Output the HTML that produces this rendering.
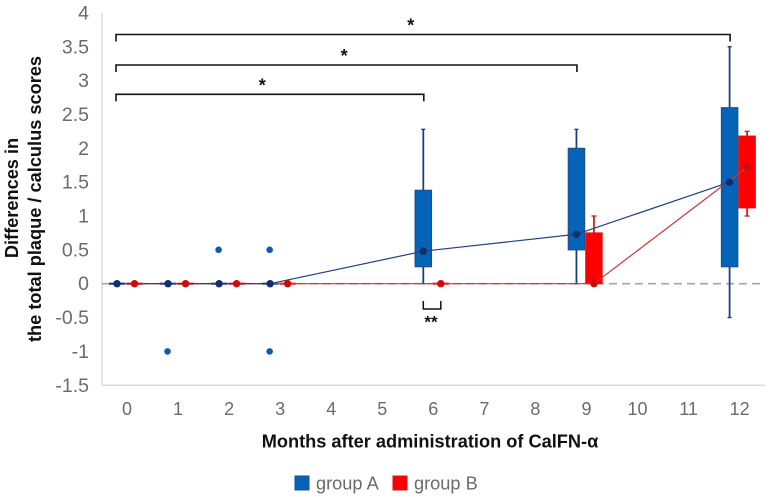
<!DOCTYPE html>
<html>
<head>
<meta charset="utf-8">
<style>
html,body{margin:0;padding:0;background:#fff;}
svg{display:block;font-family:"Liberation Sans",sans-serif;filter:blur(0.3px);}
</style>
</head>
<body>
<svg id="chart" width="771" height="497" viewBox="0 0 771 497" xmlns="http://www.w3.org/2000/svg">
<rect x="0" y="0" width="771" height="497" fill="#fff"/>
<g id="axes"></g>
<g id="marks"></g>
<g id="sig"></g>
<text transform="translate(18,198) rotate(-90)" text-anchor="middle" font-size="18.2" font-weight="bold" fill="#111">Differences in</text>
<text transform="translate(41,199) rotate(-90)" text-anchor="middle" font-size="18.2" font-weight="bold" fill="#111">the total plaque / calculus scores</text>
<text x="430" y="447.5" text-anchor="middle" font-size="18.2" font-weight="bold" fill="#111">Months after administration of CalFN-α</text>
<rect x="295" y="476" width="14" height="14" fill="#0563b8" stroke="#1f4e8c" stroke-width="1"/>
<text x="316" y="489.5" font-size="18.2" fill="#6b6b6b">group A</text>
<rect x="393" y="476" width="14" height="14" fill="#ff0000" stroke="#d01818" stroke-width="1"/>
<text x="414" y="489.5" font-size="18.2" fill="#6b6b6b">group B</text>
</svg>
<script>
var categories = ["0","1","2","3","4","5","6","7","8","9","10","11","12"];
var yTicks = [4,3.5,3,2.5,2,1.5,1,0.5,0,-0.5,-1,-1.5];
var meanCategories = [0,1,2,3,6,9,12];
var meanA = [0,0,0,0,0.48,0.73,1.5];
var meanB = [0,0,0,0,0,0,1.72];
var boxCategoriesA = [6,9,12];
var q1A = [0.25,0.5,0.25];
var q3A = [1.38,2.0,2.6];
var whiskerLowA = [0,0,-0.5];
var whiskerHighA = [2.28,2.28,3.5];
var boxCategoriesB = [9,12];
var q1B = [0,1.12];
var q3B = [0.75,2.18];
var whiskerLowB = [0,1.0];
var whiskerHighB = [1.0,2.25];
var outlierCategories = [1,2,3,3];
var outlierValues = [-1,0.5,0.5,-1];
var flatCategories = [0,1,2,3];
var bracketEnds = [12,9,6];

var NS = "http://www.w3.org/2000/svg";
function xCat(c){ return 127 + c * 51.05; }
function xA(c){ return xCat(c) - 10; }
function xB(c){ return xCat(c) + 7.5; }
function yVal(v){ return 283.7 - v * 67.7; }
function mk(parent, tag, attrs){
  var el = document.createElementNS(NS, tag);
  for (var k in attrs) el.setAttribute(k, attrs[k]);
  parent.appendChild(el);
  return el;
}
var axes = document.getElementById("axes");
var marks = document.getElementById("marks");
var sig = document.getElementById("sig");

var yAxis = mk(axes, "line", {x1:102, x2:102, y1:yVal(4), y2:yVal(-1.5), stroke:"#d4d4d4", "stroke-width":1.2});


var xAxis = mk(axes, "line", {x1:102, x2:765, y1:yVal(-1.5), y2:yVal(-1.5), stroke:"#d4d4d4", "stroke-width":1.2});


var zero = mk(axes, "line", {x1:102, x2:765, y1:yVal(0), y2:yVal(0), stroke:"#a6a6a6", "stroke-width":1.6, "stroke-dasharray":"8 5"});



yTicks.forEach(function(t){
  var el = mk(axes, "text", {x:89, y:yVal(t) + 6.5, "text-anchor":"end", "font-size":19.5, fill:"#6b6b6b"});
  el.textContent = String(t);
  
  
});
categories.forEach(function(c, i){
  var el = mk(axes, "text", {x:xCat(i), y:415, "text-anchor":"middle", "font-size":18, fill:"#6b6b6b"});
  el.textContent = c;
  
  
});

function drawBox(c, xf, q1, q3, lo, hi, fill, stroke, hw, capw, wstroke, name){
  var x = xf(c);
  var w1 = mk(marks, "line", {x1:x, x2:x, y1:yVal(q3), y2:yVal(hi), stroke:wstroke, "stroke-width":1.8});
  
  
  var w2 = mk(marks, "line", {x1:x, x2:x, y1:yVal(q1), y2:yVal(lo), stroke:wstroke, "stroke-width":1.8});
  
  
  [hi, lo].forEach(function(v){
    var cap = mk(marks, "line", {x1:x - capw, x2:x + capw, y1:yVal(v), y2:yVal(v), stroke:wstroke, "stroke-width":1.4});
    
    
  });
  var box = mk(marks, "rect", {x:x - hw, y:yVal(q3), width:hw * 2, height:yVal(q1) - yVal(q3), fill:fill, stroke:stroke, "stroke-width":1.1});
  
  
}
boxCategoriesA.forEach(function(c, i){
  drawBox(c, xA, q1A[i], q3A[i], whiskerLowA[i], whiskerHighA[i], "#0563b8", "#1f4e8c", 8.2, 2, "#1f3f7c", "group-a");
});
boxCategoriesB.forEach(function(c, i){
  drawBox(c, xB, q1B[i], q3B[i], whiskerLowB[i], whiskerHighB[i], "#ff0000", "#e01010", 8.2, 2.5, "#d02020", "group-b");
});

flatCategories.forEach(function(c){
  var a = mk(marks, "line", {x1:xA(c) - 8, x2:xA(c) + 8, y1:yVal(0), y2:yVal(0), stroke:"#1f3f7c", "stroke-width":2.2});
  
  
  var b = mk(marks, "line", {x1:xB(c) - 8, x2:xB(c) + 8, y1:yVal(0), y2:yVal(0), stroke:"#e01a1a", "stroke-width":2.2});
  
  
});
var flatB6 = mk(marks, "line", {x1:xB(6) - 8, x2:xB(6) + 8, y1:yVal(0), y2:yVal(0), stroke:"#e01a1a", "stroke-width":2.2});



function pts(xf, vals){
  return meanCategories.map(function(c, i){ return xf(c) + "," + yVal(vals[i]); }).join(" ");
}
var lineB = mk(marks, "polyline", {points:pts(xB, meanB), fill:"none", stroke:"#cf3535", "stroke-width":1.2});


var lineA = mk(marks, "polyline", {points:pts(xA, meanA), fill:"none", stroke:"#24407f", "stroke-width":1.2});



meanCategories.forEach(function(c, i){
  var a = mk(marks, "circle", {cx:xA(c), cy:yVal(meanA[i]), r:3.7, fill:"#0f2f70"});
  
  
});
meanCategories.forEach(function(c, i){
  var b = mk(marks, "circle", {cx:xB(c), cy:yVal(meanB[i]), r:3.7, fill:"#c80d0d"});
  
  
});
outlierCategories.forEach(function(c, i){
  var o = mk(marks, "circle", {cx:xA(c) - 0.5, cy:yVal(outlierValues[i]), r:3.3, fill:"#0f5ba8"});
  
  
});

var bracketY = [34.5, 65, 94.3];
var starOffsets = [0.48, 0.495, 0.475];
bracketEnds.forEach(function(c, i){
  var y = bracketY[i], x1 = 116, x2 = xA(c) + 0.5;
  var p = mk(sig, "path", {d:"M" + x1 + " " + (y + 7) + "V" + y + "H" + x2 + "V" + (y + 7), fill:"none", stroke:"#111", "stroke-width":1.6});
  
  
  var s = mk(sig, "text", {x:x1 + (x2 - x1) * starOffsets[i], y:y - 3, "text-anchor":"middle", "font-size":18, "font-weight":"bold", fill:"#111"});
  s.textContent = "*";
  
  
});
var sb = mk(sig, "path", {d:"M" + xA(6) + " 301V309H" + xB(6) + "V301", fill:"none", stroke:"#111", "stroke-width":1.5});


var ss = mk(sig, "text", {x:431, y:327.5, "text-anchor":"middle", "font-size":17, "font-weight":"bold", fill:"#111"});
ss.textContent = "**";


</script>
</body>
</html>
